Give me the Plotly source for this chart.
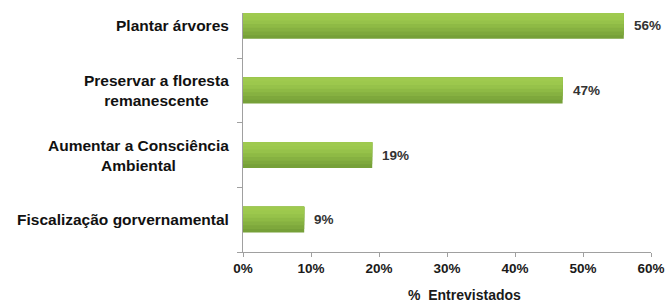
import plotly.graph_objects as go

categories = ["Fiscalização gorvernamental", "Aumentar a Consciência<br>Ambiental",
              "Preservar a floresta<br>remanescente", "Plantar árvores"]
values = [9, 19, 47, 56]
x_ticks = [0, 10, 20, 30, 40, 50, 60]
x_tick_labels = ["0%", "10%", "20%", "30%", "40%", "50%", "60%"]
x_title = "%  Entrevistados"

FONT = "Liberation Sans"
BAR_W = 0.40
# gradient bands from bottom (dark) to top (light)
band_colors = ["#76A038", "#7EA83C", "#86B141", "#8EBA45", "#96C24A", "#9CC84D", "#9FCA4F"]

fig = go.Figure()
n = len(band_colors)
bw = BAR_W / n
for i, c in enumerate(band_colors):
    fig.add_trace(go.Bar(
        y=list(range(len(categories))), x=values, orientation="h",
        width=BAR_W - i * bw, offset=-BAR_W / 2 + i * bw,
        marker=dict(color=c, line=dict(width=0)),
        hoverinfo="skip", showlegend=False,
    ))

annotations = []
for i, c in enumerate(categories):
    annotations.append(dict(
        x=0, xref="paper", y=i, yref="y",
        text="<b>" + c.replace("<br>", "</b><br><b>") + "</b>", showarrow=False,
        xanchor="right", yanchor="middle", align="center", xshift=-12,
        font=dict(family=FONT, size=15.5, color="#111111"),
    ))
for i, v in enumerate(values):
    annotations.append(dict(
        x=v, xref="x", y=i, yref="y", text=f"<b>{v}%</b>", showarrow=False,
        xanchor="left", yanchor="middle", xshift=8,
        font=dict(family=FONT, size=13.5, color="#333333"),
    ))
annotations.append(dict(
    x=0.544, xref="paper", y=-0.18, yref="paper", text=f"<b>{x_title}</b>",
    showarrow=False, xanchor="center", yanchor="middle",
    font=dict(family=FONT, size=14, color="#1a1a1a"),
))

fig.update_layout(
    width=668, height=302,
    margin=dict(l=243, r=17, t=13, b=50, autoexpand=False),
    paper_bgcolor="white", plot_bgcolor="white",
    barmode="overlay",
    annotations=annotations,
    xaxis=dict(
        range=[0, 60], tickvals=x_ticks,
        ticktext=["<b>" + t + "</b>" for t in x_tick_labels],
        showgrid=False, zeroline=False, showline=True, linecolor="#a0a0a0",
        ticks="outside", ticklen=4, tickcolor="#a0a0a0", automargin=False,
        tickfont=dict(family=FONT, size=13.5, color="#1a1a1a"),
    ),
    yaxis=dict(
        range=[-0.5, 3.2], tickvals=[-0.5, 0.5, 1.5, 2.5], showticklabels=False,
        showgrid=False, zeroline=False, showline=True, linecolor="#a0a0a0",
        ticks="outside", ticklen=5, tickcolor="#a0a0a0", automargin=False,
    ),
    font=dict(family=FONT),
)

fig.write_html("out.html", config={"displayModeBar": False},
               post_script="document.body.style.margin='0';document.body.style.overflow='hidden';")
